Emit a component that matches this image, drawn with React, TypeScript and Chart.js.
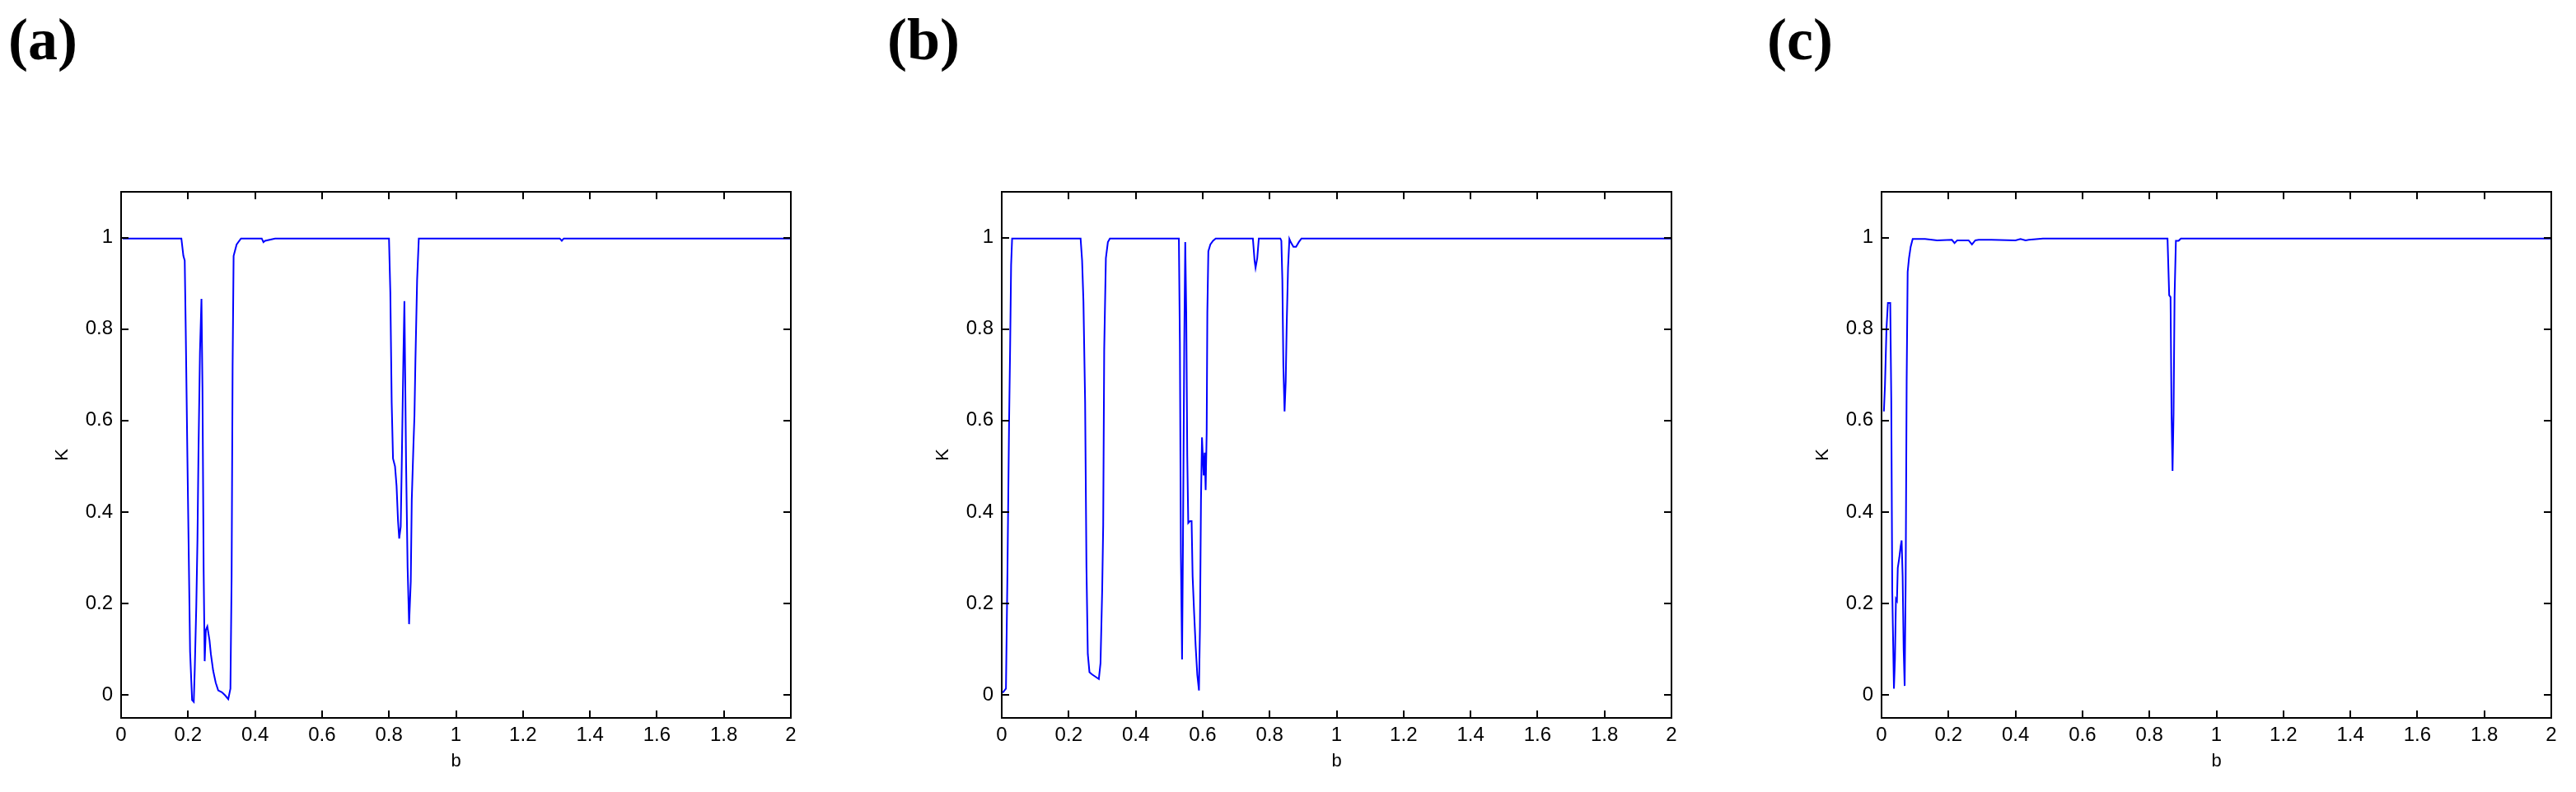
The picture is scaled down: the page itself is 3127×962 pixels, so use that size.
import React, { useEffect, useRef } from "react";
import { Chart, registerables } from "chart.js";

Chart.register(...registerables);

// ---- data ----
const bA = [0.005, 0.18, 0.186, 0.19, 0.193, 0.198, 0.2025, 0.206, 0.212, 0.217, 0.22, 0.2245, 0.228, 0.231, 0.2355, 0.24, 0.243, 0.2465, 0.2496, 0.253, 0.2575, 0.264, 0.268, 0.275, 0.2826, 0.29, 0.301, 0.311, 0.32, 0.3265, 0.33, 0.333, 0.336, 0.345, 0.358, 0.42, 0.425, 0.43, 0.46, 0.8, 0.804, 0.808, 0.812, 0.818, 0.8226, 0.827, 0.8305, 0.835, 0.838, 0.843, 0.846, 0.851, 0.8556, 0.86, 0.865, 0.868, 0.873, 0.876, 0.879, 0.884, 0.889, 1.31, 1.316, 1.322, 2];
const kA = [0.998, 0.998, 0.96, 0.95, 0.8, 0.519, 0.283, 0.095, -0.011, -0.015, 0.057, 0.193, 0.338, 0.525, 0.75, 0.866, 0.67, 0.274, 0.074, 0.142, 0.15, 0.12, 0.09, 0.053, 0.027, 0.01, 0.006, -0.001, -0.009, 0.014, 0.257, 0.72, 0.96, 0.985, 0.998, 0.998, 0.99, 0.993, 0.998, 0.998, 0.88, 0.64, 0.517, 0.5, 0.457, 0.38, 0.342, 0.368, 0.5, 0.738, 0.861, 0.508, 0.278, 0.155, 0.248, 0.427, 0.546, 0.61, 0.734, 0.908, 0.998, 0.998, 0.993, 0.998, 0.998];

const bB = [0.003, 0.0126, 0.017, 0.022, 0.025, 0.028, 0.031, 0.2355, 0.24, 0.244, 0.249, 0.253, 0.257, 0.262, 0.27, 0.28, 0.29, 0.295, 0.3, 0.303, 0.306, 0.311, 0.317, 0.323, 0.529, 0.532, 0.535, 0.5385, 0.541, 0.545, 0.548, 0.551, 0.554, 0.557, 0.562, 0.567, 0.57, 0.5745, 0.579, 0.584, 0.589, 0.592, 0.595, 0.598, 0.603, 0.606, 0.609, 0.612, 0.614, 0.617, 0.623, 0.631, 0.639, 0.75, 0.755, 0.758, 0.763, 0.7677, 0.832, 0.835, 0.838, 0.841, 0.8446, 0.848, 0.851, 0.855, 0.859, 0.863, 0.871, 0.879, 0.887, 0.895, 2];
const kB = [0.005, 0.014, 0.265, 0.6, 0.755, 0.94, 0.998, 0.998, 0.95, 0.86, 0.64, 0.28, 0.09, 0.05, 0.045, 0.04, 0.035, 0.07, 0.23, 0.37, 0.755, 0.955, 0.99, 0.998, 0.998, 0.77, 0.31, 0.078, 0.31, 0.76, 0.99, 0.836, 0.525, 0.376, 0.38, 0.38, 0.26, 0.18, 0.108, 0.044, 0.01, 0.15, 0.427, 0.563, 0.48, 0.53, 0.448, 0.575, 0.836, 0.97, 0.985, 0.993, 0.998, 0.998, 0.95, 0.934, 0.955, 0.998, 0.998, 0.993, 0.908, 0.72, 0.62, 0.685, 0.81, 0.934, 0.997, 0.99, 0.98, 0.98, 0.99, 0.998, 0.998];

const bC = [0.007, 0.0103, 0.0147, 0.019, 0.026, 0.029, 0.032, 0.037, 0.04, 0.043, 0.046, 0.0485, 0.053, 0.057, 0.06, 0.063, 0.066, 0.069, 0.072, 0.075, 0.078, 0.082, 0.087, 0.093, 0.1, 0.13, 0.166, 0.21, 0.218, 0.226, 0.237, 0.26, 0.27, 0.28, 0.29, 0.328, 0.4, 0.415, 0.43, 0.44, 0.482, 0.854, 0.859, 0.863, 0.866, 0.869, 0.872, 0.875, 0.879, 0.887, 0.894, 2];
const kC = [0.62, 0.678, 0.8, 0.857, 0.857, 0.649, 0.227, 0.014, 0.078, 0.21, 0.206, 0.278, 0.3, 0.325, 0.338, 0.26, 0.1, 0.02, 0.245, 0.687, 0.925, 0.955, 0.98, 0.997, 0.997, 0.997, 0.994, 0.995, 0.988, 0.994, 0.994, 0.994, 0.985, 0.994, 0.995, 0.995, 0.994, 0.997, 0.994, 0.995, 0.998, 0.998, 0.874, 0.87, 0.614, 0.49, 0.614, 0.87, 0.993, 0.993, 0.998, 0.998];

const xTicks = [0, 0.2, 0.4, 0.6, 0.8, 1, 1.2, 1.4, 1.6, 1.8, 2];
const xTickLabels = ["0", "0.2", "0.4", "0.6", "0.8", "1", "1.2", "1.4", "1.6", "1.8", "2"];
const yTicks = [0, 0.2, 0.4, 0.6, 0.8, 1];
const yTickLabels = ["0", "0.2", "0.4", "0.6", "0.8", "1"];
const panelLabels = ["(a)", "(b)", "(c)"];
const xTitle = "b";
const yTitle = "K";

// ---- layout ----
const CANVAS_H = 962;
const PLOT_TOP = 233;
const PLOT_BOTTOM = 872;
const Y_AXIS_W = 100;
const RIGHT_PAD = 30;
const FONT = "'Liberation Sans', Arial, sans-serif";

const panels = [
  { label: panelLabels[0], labelLeft: 10, plotLeft: 147, plotRight: 960, b: bA, k: kA },
  { label: panelLabels[1], labelLeft: 1077, plotLeft: 1216, plotRight: 2029, b: bB, k: kB },
  { label: panelLabels[2], labelLeft: 2145, plotLeft: 2284, plotRight: 3097, b: bC, k: kC },
];

const framePlugin = {
  id: "matlabFrame",
  afterDatasetsDraw(chart: any) {
    const { ctx, chartArea, scales } = chart;
    const { left, right, top, bottom } = chartArea;
    const x = scales.x;
    const y = scales.y;
    ctx.save();
    ctx.strokeStyle = "#000";
    ctx.lineWidth = 2;
    ctx.strokeRect(left, top, right - left, bottom - top);
    const L = 9;
    ctx.beginPath();
    for (const t of x.ticks) {
      const px = Math.round(x.getPixelForValue(t.value));
      ctx.moveTo(px, bottom);
      ctx.lineTo(px, bottom - L);
      ctx.moveTo(px, top);
      ctx.lineTo(px, top + L);
    }
    for (const t of y.ticks) {
      const py = Math.round(y.getPixelForValue(t.value));
      ctx.moveTo(left, py);
      ctx.lineTo(left + L, py);
      ctx.moveTo(right, py);
      ctx.lineTo(right - L, py);
    }
    ctx.stroke();
    ctx.restore();
  },
};

function Panel({ p }: { p: (typeof panels)[number] }) {
  const ref = useRef<HTMLCanvasElement>(null);
  const w = p.plotRight - p.plotLeft + Y_AXIS_W + RIGHT_PAD;
  useEffect(() => {
    if (!ref.current) return;
    const chart = new Chart(ref.current, {
      type: "line",
      data: {
        datasets: [
          {
            data: p.b.map((b, i) => ({ x: b, y: p.k[i] })),
            borderColor: "#0000ff",
            borderWidth: 2,
            pointRadius: 0,
            fill: false,
            tension: 0,
          },
        ],
      },
      options: {
        responsive: false,
        animation: false,
        devicePixelRatio: 1,
        layout: { padding: { top: PLOT_TOP, right: RIGHT_PAD, left: 0, bottom: 0 } },
        plugins: { legend: { display: false }, tooltip: { enabled: false } },
        scales: {
          x: {
            type: "linear",
            min: 0,
            max: 2,
            afterBuildTicks: (s: any) => {
              s.ticks = xTicks.map((v) => ({ value: v }));
            },
            afterFit: (s: any) => {
              s.height = CANVAS_H - PLOT_BOTTOM;
            },
            grid: { display: false, drawTicks: false },
            border: { display: false },
            ticks: {
              color: "#000",
              font: { family: FONT, size: 24 },
              padding: 7,
              maxRotation: 0,
              autoSkip: false,
              callback: (_v: any, i: number) => xTickLabels[i],
            },
            title: {
              display: true,
              text: xTitle,
              color: "#000",
              font: { family: FONT, size: 22 },
              padding: { top: 0, bottom: 24 },
            },
          },
          y: {
            type: "linear",
            min: -0.05,
            max: 1.1,
            afterBuildTicks: (s: any) => {
              s.ticks = yTicks.map((v) => ({ value: v }));
            },
            afterFit: (s: any) => {
              s.width = Y_AXIS_W;
            },
            grid: { display: false, drawTicks: false },
            border: { display: false },
            ticks: {
              color: "#000",
              font: { family: FONT, size: 24 },
              padding: 10,
              autoSkip: false,
              callback: (_v: any, i: number) => yTickLabels[i],
            },
            title: {
              display: true,
              text: yTitle,
              color: "#000",
              font: { family: FONT, size: 22 },
              padding: { top: 16, bottom: 0 },
            },
          },
        },
      } as any,
      plugins: [framePlugin],
    });
    return () => chart.destroy();
  }, []);
  return (
    <>
      <div
        style={{
          position: "absolute",
          left: p.labelLeft,
          top: 12,
          fontFamily: "'Liberation Serif', 'Times New Roman', serif",
          fontWeight: "bold",
          fontSize: 72,
          lineHeight: 1,
          color: "#000",
          whiteSpace: "nowrap",
        }}
      >
        {p.label}
      </div>
      <canvas
        ref={ref}
        width={w}
        height={CANVAS_H}
        style={{ position: "absolute", left: p.plotLeft - Y_AXIS_W, top: 0, width: w, height: CANVAS_H }}
      />
    </>
  );
}

export default function App() {
  return (
    <div style={{ position: "absolute", left: 0, top: 0, width: 3127, height: CANVAS_H, background: "#fff", overflow: "hidden" }}>
      {panels.map((p) => (
        <Panel key={p.label} p={p} />
      ))}
    </div>
  );
}
